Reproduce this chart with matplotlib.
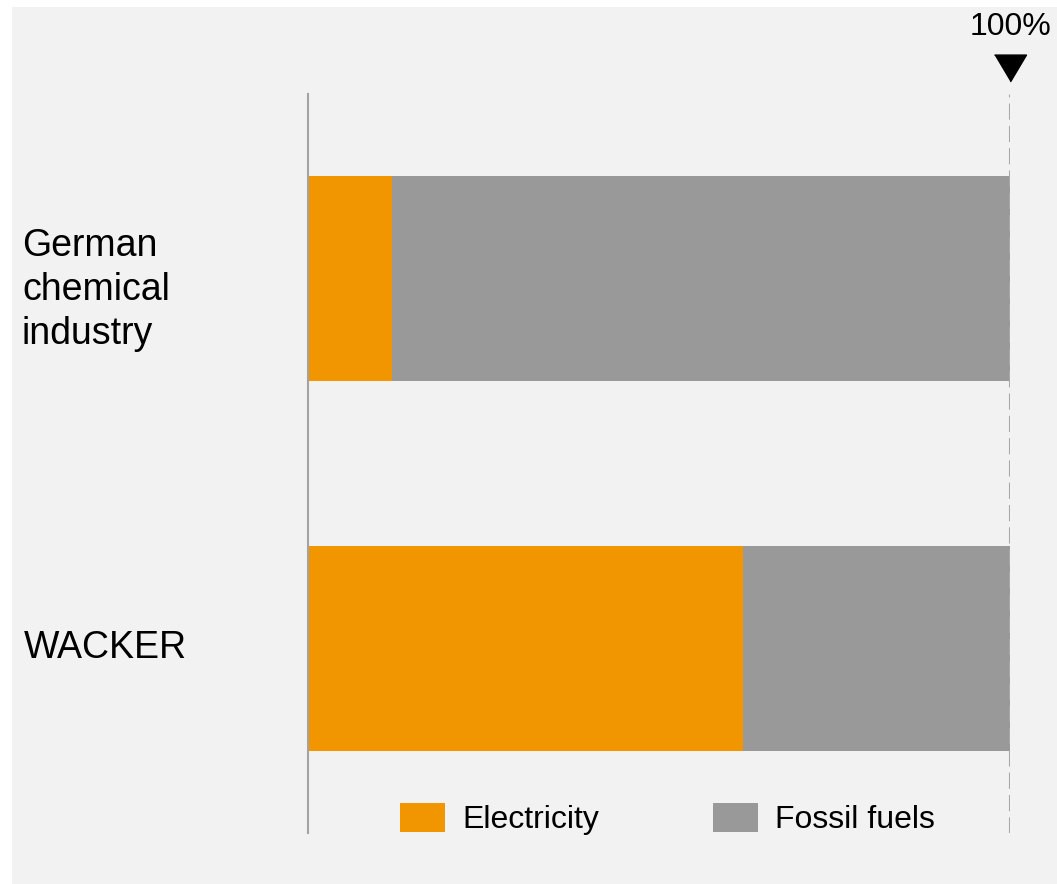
import matplotlib
matplotlib.use("Agg")
import matplotlib.pyplot as plt
from matplotlib.patches import Rectangle, Patch
from matplotlib.transforms import ScaledTranslation

plt.rcParams["font.family"] = ["Liberation Sans", "DejaVu Sans"]

# Energy mix shares (percent)
categories = ["German\nchemical\nindustry", "WACKER"]
electricity = [12, 62]
fossil_fuels = [88, 38]
series_names = ["Electricity", "Fossil fuels"]

ORANGE = "#f29600"
GREY = "#999999"
PANEL = "#f2f2f2"

W, H = 1057, 884
fig = plt.figure(figsize=(W / 100, H / 100), dpi=100)
fig.patch.set_facecolor("white")

# light grey panel behind the chart
fig.patches.append(Rectangle((12 / W, -0.01), 1.01 - 12 / W, 1.01 - 7 / H,
                             transform=fig.transFigure, facecolor=PANEL,
                             edgecolor="none", zorder=-10))

ax = fig.add_axes([308 / W, 1 - 833 / H, (1010 - 308) / W, (833 - 94) / H])
ax.set_facecolor("none")

ypos = list(range(len(categories)))
totals = [e + f for e, f in zip(electricity, fossil_fuels)]
ax.barh(ypos, electricity, height=0.554, color=ORANGE, edgecolor="none")
ax.barh(ypos, fossil_fuels, left=electricity, height=0.554, color=GREY,
        edgecolor="none")

full = max(totals)
ax.set_xlim(0, full)
ax.set_ylim(len(categories) - 0.5, -0.5)

for side in ["top", "right", "bottom"]:
    ax.spines[side].set_visible(False)
ax.spines["left"].set_color("#a3a3a3")
ax.spines["left"].set_linewidth(1.5)
ax.set_xticks([])
ax.set_yticks([])

# dashed 100% reference line with marker and label
ax.axvline(full, color="#a8a8a8", lw=2.2, dashes=(5.3, 2.0), zorder=3)
tri = [(-1, 0.84), (1, 0.84), (0, -0.84)]
ax.plot([full], [1], marker=tri, markersize=23, color="black",
        transform=ax.get_xaxis_transform() + ScaledTranslation(
            0, 26 / 100, fig.dpi_scale_trans),
        clip_on=False, linestyle="none")
ax.annotate(f"{full:.0f}%", xy=(full, 1), xycoords=("data", "axes fraction"),
            xytext=(1, 67), textcoords="offset pixels", ha="center",
            va="center", fontsize=23, color="black")

# category labels on the left
for y, label in zip(ypos, categories):
    multi = "\n" in label
    ax.annotate(label, xy=(0, y), xycoords=("figure pixels", "data"),
                xytext=(22 if multi else 24, -11 if multi else 0),
                textcoords="offset pixels", ha="left", va="center",
                fontsize=27, linespacing=1.29, color="black")

handles = [Patch(facecolor=ORANGE, edgecolor="none"),
           Patch(facecolor=GREY, edgecolor="none")]
fig.legend(handles, series_names, loc="center left",
           bbox_to_anchor=(400 / W, 1 - 819 / H), ncol=2, frameon=False,
           fontsize=23, handlelength=1.41, handleheight=1.06,
           handletextpad=0.53, columnspacing=3.56, borderpad=0,
           borderaxespad=0)

fig.savefig("out.png", dpi=100, facecolor=fig.get_facecolor())
